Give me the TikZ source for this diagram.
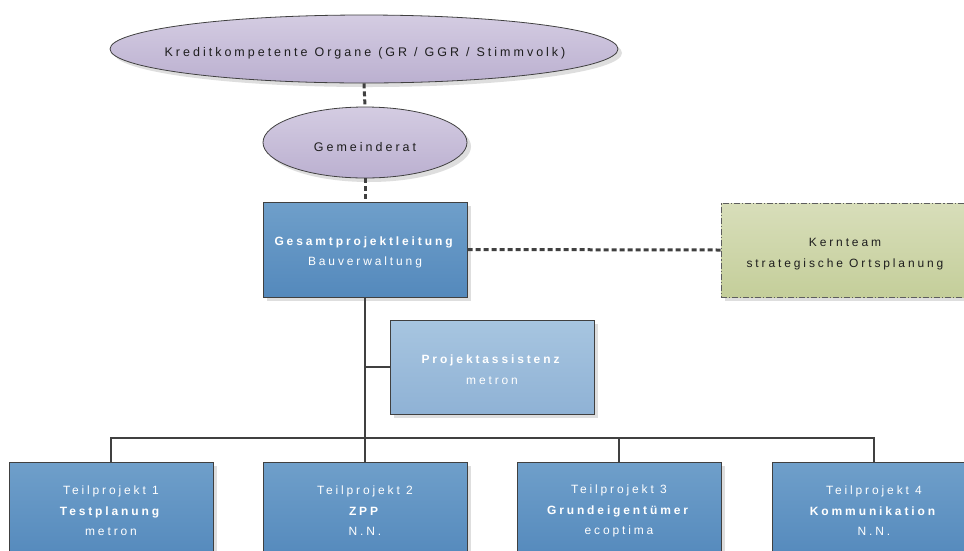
\documentclass[tikz,border=0pt]{standalone}
\usepackage{fontspec}
\setmainfont{Liberation Sans}[LetterSpace=24]
\usetikzlibrary{shapes.geometric,shadows}
\definecolor{blueT}{RGB}{111,159,202}
\definecolor{blueB}{RGB}{84,137,188}
\definecolor{lblueT}{RGB}{167,197,224}
\definecolor{lblueB}{RGB}{143,178,213}
\definecolor{lilaT}{RGB}{212,204,226}
\definecolor{lilaB}{RGB}{187,176,208}
\definecolor{greenT}{RGB}{216,222,186}
\definecolor{greenB}{RGB}{196,206,154}
\definecolor{edge}{RGB}{64,64,64}
\definecolor{shadowgray}{RGB}{222,222,222}
\definecolor{darktext}{RGB}{30,30,30}
\begin{document}
\begin{tikzpicture}[x=1pt,y=-1pt,
  font=\fontsize{12}{20.5}\selectfont,
  shade/.style={drop shadow={shadow xshift=4pt,shadow yshift=-4pt,fill=shadowgray,opacity=1}},
  bluebox/.style={rectangle,draw=edge,line width=1pt,top color=blueT,bottom color=blueB,
    minimum width=204pt,minimum height=95pt,text=white,align=center,inner sep=0pt,shade},
  lightbox/.style={bluebox,top color=lblueT,bottom color=lblueB},
  tpbox/.style={bluebox,minimum height=98pt},
  oval/.style={ellipse,draw=edge,line width=0.8pt,top color=lilaT,bottom color=lilaB,inner sep=0pt,shade},
  greenbox/.style={rectangle,draw=edge!85,line width=1pt,dash pattern=on 6pt off 2pt on 1.2pt off 2pt,
    top color=greenT,bottom color=greenB,minimum width=248pt,minimum height=94pt,inner sep=0pt,shade},
  intext/.style={text=white,align=center,inner sep=0pt},
  ovaltext/.style={text=darktext,inner sep=0pt,font=\fontsize{12.5}{20.5}\selectfont},
  dotline/.style={draw=edge,line width=3pt,dash pattern=on 5pt off 3pt},
  conn/.style={draw=edge,line width=2.5pt}]
\clip (0,0) rectangle (964,550);
\fill[white] (0,0) rectangle (964,550);

% ellipses
\node[oval,minimum width=508pt,minimum height=68pt] (ko) at (364,49) {};
\node[ovaltext] (kot) at (365,53) {\spaceskip=7pt Kreditkompetente Organe (GR / GGR / Stimmvolk)};
\node[oval,minimum width=204pt,minimum height=71pt] (gr) at (365,142.5) {};
\node[ovaltext] (grt) at (365,147.5) {Gemeinderat};

% boxes
\node[bluebox] (gpl) at (365,249.5) {};
\node[intext] (gplt) at (365,252.5) {\textbf{Gesamtprojektleitung}\\Bauverwaltung};
\node[greenbox] (kt) at (845,250) {};
\node[intext,text=darktext] (ktt) at (845,254) {Kernteam\\strategische Ortsplanung};
\node[lightbox,minimum height=94pt] (pa) at (492,367) {};
\node[intext] (pat) at (492,369.5) {\textbf{Projektassistenz}\\metron};

\node[tpbox] (tp1) at (111,511) {Teilprojekt 1\\\textbf{Testplanung}\\metron};
\node[tpbox] (tp2) at (365,511) {Teilprojekt 2\\\textbf{ZPP}\\N.N.};
\node[tpbox] (tp3) at (619,511) {Teilprojekt 3\\\textbf{Grundeigentümer}\\ecoptima};
\node[tpbox] (tp4) at (874,511) {Teilprojekt 4\\\textbf{Kommunikation}\\N.N.};

% connectors
\draw[dotline] (ko.south) -- (gr.north);
\draw[dotline] (gr.south) -- (gpl.north);
\draw[dotline] (gpl.east) -- (kt.west);
\coordinate (busy) at (0,438);
\draw[conn] (gpl.south) -- (tp2.north);
\draw[conn] (pa.west) -- (pa.west -| gpl.south);
\draw[conn] (tp1.north) -- (tp1.north |- busy) -| (tp4.north);
\draw[conn] (tp3.north) -- (tp3.north |- busy);
\end{tikzpicture}
\end{document}
